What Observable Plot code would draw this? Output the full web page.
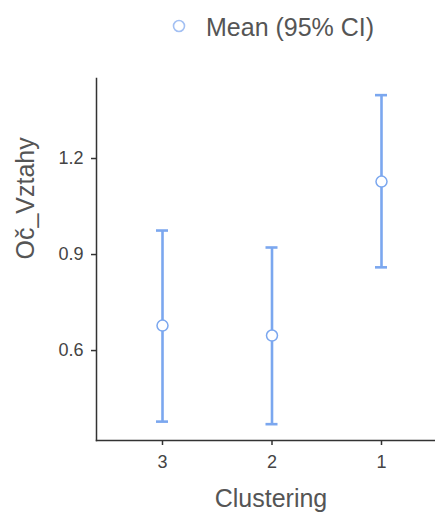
<!DOCTYPE html>
<html>
<head>
<meta charset="utf-8">
<script src="https://cdn.jsdelivr.net/npm/d3@7"></script>
<script src="https://cdn.jsdelivr.net/npm/@observablehq/plot@0.6"></script>
<style>
  html, body { margin: 0; padding: 0; background: #fff; }
  body { width: 435px; height: 514px; overflow: hidden; font-family: "Liberation Sans", Arial, sans-serif; }
  #legend { position: relative; height: 56px; width: 435px; }
  #legend svg { position: absolute; left: 171px; top: 18px; }
  #legend span { position: absolute; left: 206px; top: 12px; font-size: 25px; color: #555; line-height: 30px; }
  #chart svg { display: block; }
</style>
</head>
<body>
<div id="legend"></div>
<div id="chart"></div>
<script>
const clusters = ["3", "2", "1"];
const means = [0.678, 0.647, 1.128];
const lowerCI = [0.378, 0.370, 0.860];
const upperCI = [0.975, 0.922, 1.398];
const yTicks = [0.6, 0.9, 1.2];
const legendLabel = "Mean (95% CI)";
const xTitle = "Clustering";
const yTitle = "Oč_Vztahy";

const barColor = "#7ba7ef";

const data = clusters.map((c, i) => ({cluster: c, mean: means[i], lower: lowerCI[i], upper: upperCI[i]}));

// legend
const lg = document.getElementById("legend");
lg.innerHTML = `<svg width="16" height="16"><circle cx="8" cy="8" r="5.5" fill="white" stroke="#a3c0f3" stroke-width="1.6"/></svg><span>${legendLabel}</span>`;

const chart = Plot.plot({
  width: 435,
  height: 458,
  marginLeft: 96,
  marginRight: 0,
  marginTop: 22,
  marginBottom: 74,
  style: {fontFamily: "'Liberation Sans', Arial, sans-serif", background: "white", color: "#444"},
  x: {type: "band", domain: clusters, range: [156, 387], paddingInner: 0.8904, paddingOuter: 0, round: false},
  y: {domain: [0.319, 1.45]},
  marks: [
    Plot.axisY({ticks: yTicks, tickFormat: d3.format(".1f"), tickSize: 5, tickPadding: 8, fontSize: 18, label: null, stroke: "#333", strokeWidth: 1.5, fill: "#444"}),
    Plot.axisX({tickSize: 5, tickPadding: 10, fontSize: 18, label: null, stroke: "#333", strokeWidth: 1.5, fill: "#444"}),
    Plot.frame({anchor: "left", stroke: "#333", strokeWidth: 1.5}),
    Plot.frame({anchor: "bottom", stroke: "#333", strokeWidth: 1.5}),
    Plot.text([yTitle], {text: d => d, frameAnchor: "left", rotate: -90, dx: -71, fontSize: 25, fill: "#555", lineAnchor: "middle"}),
    Plot.text([xTitle], {text: d => d, frameAnchor: "bottom", dx: 5, dy: 58, fontSize: 25, fill: "#555", lineAnchor: "middle"}),
    Plot.ruleX(data, {x: "cluster", y1: "lower", y2: "upper", stroke: barColor, strokeWidth: 2.6}),
    Plot.tickY(data, {x: "cluster", y: "upper", stroke: barColor, strokeWidth: 2.6}),
    Plot.tickY(data, {x: "cluster", y: "lower", stroke: barColor, strokeWidth: 2.6}),
    Plot.dot(data, {x: "cluster", y: "mean", r: 5.5, fill: "white", stroke: barColor, strokeWidth: 1.5})
  ]
});
document.getElementById("chart").appendChild(chart);
</script>
</body>
</html>
